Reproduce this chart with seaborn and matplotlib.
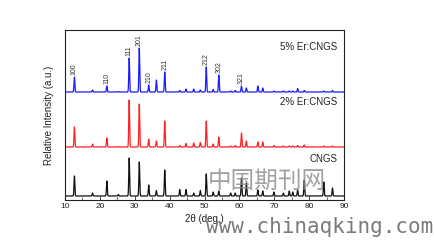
import numpy as np
import pandas as pd
import matplotlib
matplotlib.use("Agg")
import matplotlib.pyplot as plt
import seaborn as sns
from matplotlib.ticker import MultipleLocator

# ---- data ----
peak_pos = [12.7, 17.9, 22.0, 25.3, 28.4, 31.3, 34.0, 36.2, 38.6, 42.9, 44.7, 46.9,
            48.8, 50.5, 52.5, 54.1, 57.5, 58.8, 60.6, 62.0, 65.3, 66.7, 69.9, 72.6,
            74.3, 75.3, 76.7, 78.6, 84.2, 86.7]
h_5er = [15, 2, 6, 0.5, 34, 44, 7, 12, 20, 1.5, 3, 3,
         2, 25, 2.5, 17, 1, 1.5, 6, 4, 6, 4, 1, 1,
         1, 1, 3.5, 1.5, 1, 1.5]
h_2er = [20, 3, 9, 0.5, 47, 43, 8, 6, 26, 1.5, 3.5, 4,
         4.5, 26, 3, 10, 1, 1.5, 14, 6, 5, 5, 1.5, 1,
         1, 1, 1.5, 2, 1, 1]
h_cngs = [20, 3, 15, 1.5, 38, 34, 11, 5.5, 26, 6.5, 6.5, 3,
          5.5, 22, 4, 5, 3, 3, 18, 13, 6, 5, 4, 3,
          5, 4, 6, 16, 14, 8]
series_names = ["5% Er:CNGS", "2% Er:CNGS", "CNGS"]
series_colors = ["#1a1aff", "#ff2020", "#111111"]
hkl_labels = ["100", "110", "111", "201", "210", "211", "212", "302", "321"]
hkl_pos = [12.7, 22.0, 28.4, 31.3, 34.0, 38.6, 50.5, 54.1, 60.6]
x_ticks = [10, 20, 30, 40, 50, 60, 70, 80, 90]

offsets = [108, 53, 4]

# ---- build profiles ----
x = np.linspace(10, 90, 4001)
frames = []
for name, hs, off in zip(series_names, [h_5er, h_2er, h_cngs], offsets):
    y = np.zeros_like(x)
    for p, h in zip(peak_pos, hs):
        y += h * np.exp(-0.5 * ((x - p) / 0.12) ** 2)
    frames.append(pd.DataFrame({"two_theta": x, "I": y + off, "series": name}))
df = pd.concat(frames, ignore_index=True)

sns.set_theme(style="white")
plt.rcParams["font.family"] = ["Liberation Sans", "DejaVu Sans"]

fig = plt.figure(figsize=(4.34, 2.40), dpi=100)
fig.patch.set_facecolor("white")
ax = fig.add_axes([65 / 434, 1 - 200 / 240, (344 - 65) / 434, 170 / 240])

sns.lineplot(data=df, x="two_theta", y="I", hue="series", hue_order=series_names,
             palette=series_colors, linewidth=0.9, legend=False, ax=ax,
             estimator=None, sort=False)

ax.set_xlim(10, 90)
ax.set_ylim(0, 170)
ax.set_xticks(x_ticks)
ax.set_xticklabels([str(t) for t in x_ticks])
ax.xaxis.set_minor_locator(MultipleLocator(5))
ax.tick_params(axis="x", which="major", direction="in", length=3, width=0.6,
               labelsize=6, pad=2, bottom=True, top=False, colors="#222222")
ax.tick_params(axis="x", which="minor", direction="in", length=2, width=0.5,
               bottom=True, top=False, color="#222222")
ax.set_yticks([])
for s in ax.spines.values():
    s.set_color("#222222")
    s.set_linewidth(0.8)

ax.set_xlabel("2θ (deg.)", fontsize=7, labelpad=3, color="#222222")
ax.set_ylabel("Relative Intensity (a.u.)", fontsize=7, labelpad=8, color="#222222")

# series labels
label_y = [153, 98, 41]
for name, yy in zip(series_names, label_y):
    ax.text(88.0, yy, name, ha="right", va="center", fontsize=7, color="#222222")

# hkl labels above blue peaks
blue_h = dict(zip(peak_pos, h_5er))
for lab, p in zip(hkl_labels, hkl_pos):
    ax.text(p, offsets[0] + blue_h[p] + 2, lab, rotation=90, ha="center", va="bottom",
            fontsize=5, color="#333333")

# watermark
fig.text(267 / 434, 1 - 181 / 240, "中国期刊网", ha="center", va="center",
         fontsize=17, color="#8a8a8a", alpha=0.8,
         family=["Noto Sans CJK SC", "DejaVu Sans"])
fig.text(320 / 434, 1 - 227 / 240, "www.chinaqking.com", ha="center", va="center",
         fontsize=15, color="#7a7a7a", family=["DejaVu Sans Mono"])

fig.savefig("out.png", dpi=100, facecolor="white")
